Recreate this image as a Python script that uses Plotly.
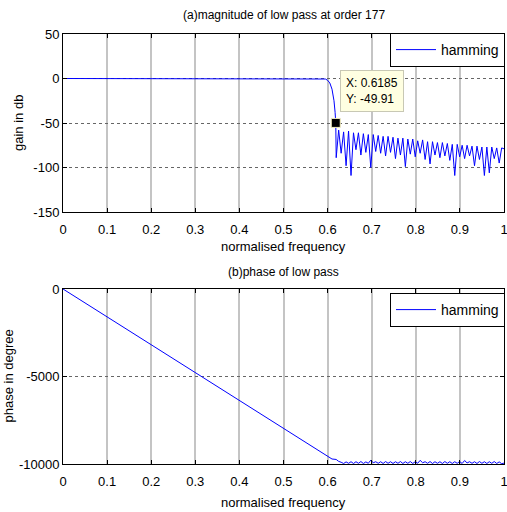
import plotly.graph_objects as go

# ---------------- data ----------------
x_ticks = [0, 0.1, 0.2, 0.3, 0.4, 0.5, 0.6, 0.7, 0.8, 0.9, 1]
x_tick_labels = ["0", "0.1", "0.2", "0.3", "0.4", "0.5", "0.6", "0.7", "0.8", "0.9", "1"]
mag_ticks = [-150, -100, -50, 0, 50]
mag_tick_labels = ["-150", "-100", "-50", "0", "50"]
phase_ticks = [-10000, -5000, 0]
phase_tick_labels = ["-10000", "-5000", "0"]

# pass band + transition band of the magnitude response
pass_x = [0, 0.1, 0.2, 0.3, 0.4, 0.5, 0.58, 0.59, 0.595, 0.600, 0.605, 0.610, 0.6145, 0.617, 0.6185]
pass_db = [0, 0, 0, 0, 0, 0, 0, -0.1, -0.6, -2, -5, -12, -25, -38, -49.91]

# stop band: side-lobe nulls and peaks
null_x = [0.6195, 0.6307, 0.6419, 0.6531, 0.6643, 0.6755, 0.6867, 0.6979, 0.7091, 0.7203,
          0.7315, 0.7427, 0.7539, 0.7651, 0.7763, 0.7875, 0.7987, 0.8099, 0.8211, 0.8323,
          0.8435, 0.8547, 0.8659, 0.8771, 0.8883, 0.8995, 0.9107, 0.9219, 0.9331, 0.9443,
          0.9555, 0.9667, 0.9779, 0.9891]
null_db = [-89, -84, -98, -109, -80, -86, -83, -100, -82, -84,
           -87, -83, -90, -86, -99, -85, -88, -84, -91, -96,
           -86, -89, -87, -92, -109, -88, -90, -87, -98, -91,
           -109, -106, -90, -95]
peak_x = [0.6251, 0.6363, 0.6475, 0.6587, 0.6699, 0.6811, 0.6923, 0.7035, 0.7147, 0.7259,
          0.7371, 0.7483, 0.7595, 0.7707, 0.7819, 0.7931, 0.8043, 0.8155, 0.8267, 0.8379,
          0.8491, 0.8603, 0.8715, 0.8827, 0.8939, 0.9051, 0.9163, 0.9275, 0.9387, 0.9499,
          0.9611, 0.9723, 0.9835, 0.9947]
peak_db = [-58, -60, -59, -61, -61, -62, -63, -63, -64, -65,
           -65, -66, -67, -67, -68, -68, -70, -69, -71, -71,
           -72, -72, -73, -74, -74, -75, -75, -76, -76, -77,
           -77, -77, -78, -78]
end_x = [1.0]
end_db = [-79]

# phase (degrees)
phase_lin_x = [0, 0.1, 0.2, 0.3, 0.4, 0.5, 0.6, 0.61]
phase_lin_y = [0, -1590, -3185, -4780, -6370, -7960, -9555, -9715]
phase_hi = [-9740, -9900, -9880, -9870, -9870, -9860, -9880, -9780, -9870, -9870,
            -9860, -9870, -9870, -9860, -9870, -9860, -9870, -9790, -9870, -9860,
            -9870, -9870, -9860, -9870, -9870, -9860, -9800, -9870, -9870, -9860,
            -9870, -9870, -9860, -9880]
phase_lo = [-9850, -9970, -9960, -9970, -9960, -9970, -9960, -9930, -9960, -9970,
            -9960, -9970, -9960, -9970, -9960, -9970, -9960, -9930, -9960, -9970,
            -9960, -9970, -9960, -9970, -9960, -9970, -9940, -9960, -9970, -9960,
            -9970, -9960, -9970, -9980]
phase_end = [-9950]

marker_x = [0.6185]
marker_y = [-49.91]

# ---------------- build polylines ----------------
mag_x = list(pass_x)
mag_y = list(pass_db)
for nx, ny, px, py in zip(null_x, null_db, peak_x, peak_db):
    mag_x += [nx, px]
    mag_y += [ny, py]
mag_x += end_x
mag_y += end_db

ph_x = list(phase_lin_x)
ph_y = list(phase_lin_y)
for nx, hy, px, ly in zip(null_x, phase_hi, peak_x, phase_lo):
    ph_x += [nx, px]
    ph_y += [hy, ly]
ph_x += end_x
ph_y += phase_end

W, H = 507, 512
FONT = "Liberation Sans, Arial, sans-serif"
BLUE = "#0000ff"

fig = go.Figure()
fig.add_trace(go.Scatter(x=mag_x, y=mag_y, mode="lines", name="hamming",
                         line=dict(color=BLUE, width=1), xaxis="x", yaxis="y",
                         legend="legend"))
fig.add_trace(go.Scatter(x=marker_x, y=marker_y, mode="markers", showlegend=False,
                         marker=dict(symbol="square", size=9, color="black",
                                     line=dict(color="#f5f0c0", width=1)),
                         xaxis="x", yaxis="y"))
fig.add_trace(go.Scatter(x=ph_x, y=ph_y, mode="lines", name="hamming",
                         line=dict(color=BLUE, width=1), xaxis="x2", yaxis="y2",
                         legend="legend2"))

def px_x(p):
    return p / W

def px_y(p):
    return 1 - p / H

L, R = 63, 504
T1, B1 = 34, 212
T2, B2 = 289, 464

xcommon = dict(range=[0, 1], tickvals=x_ticks, ticktext=x_tick_labels,
               showline=True, linecolor="black", linewidth=1, mirror="allticks",
               ticks="inside", ticklen=4, tickcolor="black",
               showgrid=True, gridcolor="#c4c4c4", gridwidth=1.5,
               zeroline=False, tickfont=dict(family=FONT, size=13, color="black"),
               ticklabeloverflow="allow", ticklabelstandoff=5,
               automargin=False, fixedrange=True)
ycommon = dict(showline=True, linecolor="black", linewidth=1, mirror="allticks",
               ticks="inside", ticklen=4, tickcolor="black",
               showgrid=True, gridcolor="#666666", gridwidth=1, griddash="dot",
               zeroline=False, tickfont=dict(family=FONT, size=13, color="black"),
               ticklabeloverflow="allow",
               automargin=False, fixedrange=True)

fig.update_layout(
    width=W, height=H,
    margin=dict(l=0, r=0, t=0, b=0),
    paper_bgcolor="white", plot_bgcolor="white",
    font=dict(family=FONT, size=13, color="black"),
    xaxis=dict(domain=[px_x(L), px_x(R)], anchor="y", **xcommon),
    yaxis=dict(domain=[px_y(B1), px_y(T1)], anchor="x", range=[-150, 50],
               tickvals=mag_ticks, ticktext=mag_tick_labels, **ycommon),
    xaxis2=dict(domain=[px_x(L), px_x(R)], anchor="y2", **xcommon),
    yaxis2=dict(domain=[px_y(B2), px_y(T2)], anchor="x2", range=[-10000, 0],
                tickvals=phase_ticks, ticktext=phase_tick_labels, **ycommon),
    legend=dict(x=px_x(505), y=px_y(33), xanchor="right", yanchor="top",
                bgcolor="white", bordercolor="black", borderwidth=1,
                font=dict(family=FONT, size=14), itemwidth=40),
    legend2=dict(x=px_x(505), y=px_y(293), xanchor="right", yanchor="top",
                 bgcolor="white", bordercolor="black", borderwidth=1,
                 font=dict(family=FONT, size=14), itemwidth=40),
    showlegend=True,
)

ann = [
    dict(text="(a)magnitude of low pass at order 177", x=px_x((L + R) / 2), y=px_y(15),
         xanchor="center", yanchor="middle", font=dict(size=12)),
    dict(text="normalised frequency", x=px_x((L + R) / 2), y=px_y(246),
         xanchor="center", yanchor="middle", font=dict(size=13)),
    dict(text="gain in db", x=px_x(18), y=px_y((T1 + B1) / 2), textangle=-90,
         xanchor="center", yanchor="middle", font=dict(size=13)),
    dict(text="(b)phase of low pass", x=px_x((L + R) / 2), y=px_y(272),
         xanchor="center", yanchor="middle", font=dict(size=12)),
    dict(text="normalised frequency", x=px_x((L + R) / 2), y=px_y(502),
         xanchor="center", yanchor="middle", font=dict(size=13)),
    dict(text="phase in degree", x=px_x(8), y=px_y((T2 + B2) / 2), textangle=-90,
         xanchor="center", yanchor="middle", font=dict(size=13)),
    dict(text="X: 0.6185<br>Y: -49.91", x=px_x(340), y=px_y(70), xanchor="left",
         yanchor="top", align="left", bgcolor="#ffffe1", bordercolor="#c8c8b4",
         borderwidth=1, borderpad=5, font=dict(size=12)),
]
for a in ann:
    a.update(xref="paper", yref="paper", showarrow=False)
    a.setdefault("font", {})
    a["font"]["family"] = FONT
    a["font"]["color"] = "black"
fig.update_layout(annotations=ann)

fig.write_html("out.html", config={"displayModeBar": False},
               post_script="document.body.style.margin='0';document.body.style.overflow='hidden';")
